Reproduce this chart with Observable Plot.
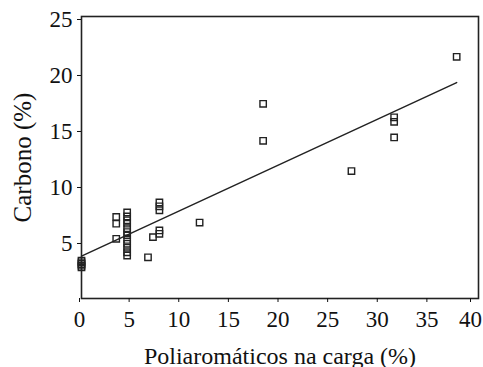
<!DOCTYPE html>
<html>
<head>
<meta charset="utf-8">
<script src="https://cdn.jsdelivr.net/npm/d3@7"></script>
<script src="https://cdn.jsdelivr.net/npm/@observablehq/plot@0.6"></script>
<style>
  html, body { margin: 0; padding: 0; background: #fff; }
  svg, svg text { font-family: "Liberation Serif", "DejaVu Serif", serif !important; }
</style>
</head>
<body>
<div id="chart"></div>
<script>
// Data
const polyX = [0, 0, 0, 0, 0,
  3.5, 3.5, 3.5,
  4.6, 4.6, 4.6, 4.6, 4.6, 4.6, 4.6, 4.6, 4.6, 4.6, 4.6, 4.6,
  6.7, 7.2, 7.85, 7.85, 7.85, 7.85, 7.85,
  11.9, 18.3, 18.3, 27.2, 31.5, 31.5, 31.5, 37.8];
const carbonY = [2.6, 2.75, 2.9, 3.05, 3.2,
  7.1, 6.5, 5.15,
  7.5, 7.15, 6.8, 6.5, 6.1, 5.75, 5.45, 5.05, 4.7, 4.35, 3.95, 3.65,
  3.5, 5.3, 8.4, 8.05, 7.7, 5.9, 5.6,
  6.6, 17.2, 13.9, 11.2, 16.0, 15.6, 14.2, 21.4];
const fitX = [0, 37.8];
const fitY = [3.6, 19.1];
const xTicks = [0, 5, 10, 15, 20, 25, 30, 35];
const xLastTick = [40];
const yTicks = [5, 10, 15, 20, 25];
const xTitle = ["Poliaromáticos na carga (%)"];
const yTitle = ["Carbono (%)"];

const pts = polyX.map((x, i) => ({x, y: carbonY[i]}));
const fit = fitX.map((x, i) => ({x, y: fitY[i]}));
const serif = "Liberation Serif";

const chart = Plot.plot({
  width: 483,
  height: 367,
  marginLeft: 81,
  marginRight: 5,
  marginTop: 16,
  marginBottom: 69,
  style: {fontFamily: serif, fontSize: "23px", color: "#111", background: "#fff"},
  x: {domain: [0, 40]},
  y: {domain: [-0.18, 25]},
  marks: [
    Plot.frame({stroke: "#222", strokeWidth: 1.6}),
    Plot.axisX({ticks: xTicks, tickSize: 4, tickPadding: 8, fontSize: 23, fontFamily: serif, dx: -2, label: null}),
    Plot.axisX({ticks: xLastTick, tickSize: 4, tickPadding: 8, fontSize: 23, fontFamily: serif, dx: -8, label: null}),
    Plot.axisY({ticks: yTicks, tickSize: 4, tickPadding: 5, fontSize: 23, fontFamily: serif, dy: 3, label: null}),
    Plot.text(xTitle, {frameAnchor: "bottom", textAnchor: "middle", dy: 65, fontSize: 24, fontFamily: serif, fill: "#111"}),
    Plot.text(yTitle, {frameAnchor: "left", textAnchor: "middle", rotate: -90, dx: -59, fontSize: 25, fontFamily: serif, fill: "#111"}),
    Plot.line(fit, {x: "x", y: "y", stroke: "#222", strokeWidth: 1.5}),
    Plot.dot(pts, {x: "x", y: "y", symbol: "square", r: 3.6, stroke: "#222", strokeWidth: 1.4, fill: "none"})
  ]
});
document.getElementById("chart").appendChild(chart);
</script>
</body>
</html>
